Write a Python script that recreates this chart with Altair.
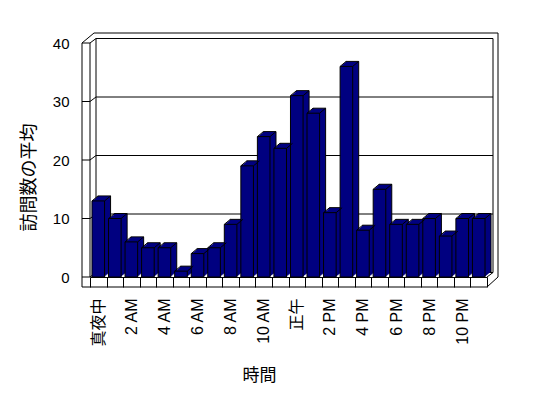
import altair as alt
import pandas as pd

# ---- data ----
hours = ["真夜中", "1 AM", "2 AM", "3 AM", "4 AM", "5 AM", "6 AM", "7 AM", "8 AM",
         "9 AM", "10 AM", "11 AM", "正午", "1 PM", "2 PM", "3 PM", "4 PM", "5 PM",
         "6 PM", "7 PM", "8 PM", "9 PM", "10 PM", "11 PM"]
visits = [13, 10, 6, 5, 5, 1, 4, 5, 9, 19, 24, 22, 31, 28, 11, 36, 8, 15, 9, 9, 10, 7, 10, 10]
y_ticks = [0, 10, 20, 30, 40]
shown_labels = hours[::2]

df = pd.DataFrame({"hour": hours, "v": visits})
tick_df = pd.DataFrame({"v": y_ticks})
one = pd.DataFrame({"a": [0]})

W, H = 397, 234
NAVY = "#000080"
DX, DY = 6, -5
BAR = 12.6
LATIN = "Liberation Sans, Noto Sans CJK JP"
CJK = "Noto Sans CJK JP"

label_list = "[" + ",".join("'" + s + "'" for s in shown_labels) + "]"

xscale = alt.Scale(domain=hours, paddingInner=0, paddingOuter=0)
yscale = alt.Scale(domain=[0, 40], nice=False, zero=True)

x_axis = alt.Axis(
    title="時間", titleFont=CJK, titleFontSize=17, titleFontWeight="normal",
    titleX=169, titleY=98, titleBaseline="middle", titleAlign="center",
    labelAngle=270, labelAlign="right", labelBaseline="middle",
    labelFont=LATIN, labelFontSize=16, labelColor="black", labelPadding=11,
    labelExpr="indexof(" + label_list + ", datum.value) >= 0 ? datum.value : ''",
    tickBand="extent", tickSize=10, tickColor="black", ticks=True,
    domain=True, domainColor="black", grid=False, labelOverlap=False,
)
y_axis = alt.Axis(
    title="訪問数の平均", titleFont=CJK, titleFontSize=18, titleFontWeight="normal",
    titleX=-61, titleY=134, titleAngle=270, titleAlign="center", titleBaseline="middle",
    values=y_ticks, labelFont=LATIN, labelFontSize=15, labelColor="black",
    labelPadding=21, ticks=False, domain=False, grid=False,
)

base = alt.Chart(df)
X = alt.X("hour:N", sort=hours, scale=xscale, axis=x_axis)
Y = alt.Y("v:Q", scale=yscale, axis=y_axis)

# ---- frame / walls ----
back_wall = alt.Chart(one).mark_rect(fill="white", stroke="black", strokeWidth=1).encode(
    x=alt.value(6), x2=alt.value(403), y=alt.value(-4.5), y2=alt.value(H - 4.5))

gridlines = alt.Chart(tick_df).mark_rule(color="black", strokeWidth=1, yOffset=-4.5).encode(
    y=Y, x=alt.value(6), x2=alt.value(403))

wall_ticks = alt.Chart(tick_df).mark_rule(color="black", strokeWidth=1).encode(
    y=Y, x=alt.value(-8), x2=alt.value(0))

wall_conn = alt.Chart(tick_df).mark_rule(color="black", strokeWidth=1, y2Offset=-4.5).encode(
    y=Y, y2="v:Q", x=alt.value(0), x2=alt.value(6))

def seg(x1, y1, x2, y2):
    return alt.Chart(one).mark_rule(color="black", strokeWidth=1).encode(
        x=alt.value(x1), y=alt.value(y1), x2=alt.value(x2), y2=alt.value(y2))

frame = [
    seg(-8, 0, -8, H + 10),        # left wall outer edge
    seg(0, 0, 0, H),               # left wall inner edge
    seg(-8, 0, 4, -10),            # top-left diagonal
    seg(4, -10, 408, -10),         # outer top edge
    seg(408, -10, 408, H),         # outer right edge
    seg(408, H, W, H + 10),        # bottom-right diagonal
    seg(-8, H + 10, W, H + 10),    # floor front bottom edge
    seg(W, H, 403, H - 4.5),       # floor right connector
]

# ---- 3D bars ----
back_bar = base.mark_bar(size=BAR, fill=NAVY, stroke="black", strokeWidth=1,
                         xOffset=DX, yOffset=DY, y2Offset=DY).encode(
    x=X, y=Y, y2=alt.datum(0))

mids = []
for k in range(5, 0, -1):
    f = k / 6.0
    mids.append(base.mark_bar(size=BAR, fill=NAVY, strokeWidth=0,
                              xOffset=DX * f, yOffset=DY * f, y2Offset=DY * f).encode(
        x=X, y=Y, y2=alt.datum(0)))

front_bar = base.mark_bar(size=BAR, fill=NAVY, stroke="black", strokeWidth=1).encode(
    x=X, y=Y, y2=alt.datum(0))

h = BAR / 2
diag_tl = base.mark_rule(color="black", strokeWidth=1, xOffset=-h, x2Offset=-h + DX,
                         y2Offset=DY).encode(x=X, x2="hour:N", y=Y, y2="v:Q")
diag_tr = base.mark_rule(color="black", strokeWidth=1, xOffset=h, x2Offset=h + DX,
                         y2Offset=DY).encode(x=X, x2="hour:N", y=Y, y2="v:Q")

chart = alt.layer(
    back_wall, gridlines, wall_ticks, wall_conn, *frame,
    back_bar, *mids, front_bar, diag_tl, diag_tr,
).properties(
    width=W, height=H,
    padding={"left": 82, "top": 35, "right": 40, "bottom": 112},
    autosize="none",
    background="white",
).configure_view(stroke=None)

chart.save("out.html", embed_options={"renderer": "svg", "actions": False})
